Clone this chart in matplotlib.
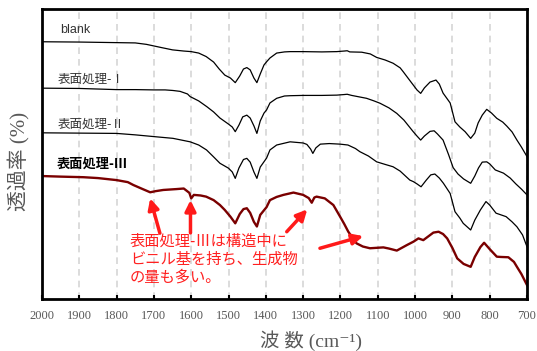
import matplotlib
matplotlib.use('Agg')
import matplotlib.pyplot as plt

# wavenumber (cm-1) / transmittance (stacked, arbitrary %)
wn_blank = [2000, 1900, 1800, 1750, 1720, 1680, 1650, 1620, 1600, 1580, 1560, 1540, 1525, 1510,
            1495, 1482, 1470, 1460, 1451, 1442, 1432, 1424, 1415, 1405, 1398, 1389, 1371, 1350,
            1335, 1300, 1250, 1210, 1190, 1182, 1175, 1143, 1120, 1103, 1080, 1059, 1040, 1032,
            1015, 1005, 995, 985, 975, 960, 944, 935, 925, 906, 893, 880, 866, 851, 840, 831,
            820, 808, 795, 781, 765, 754, 740, 727, 715, 700]
t_blank = [88.7, 88.6, 88.4, 88.3, 87.8, 86.7, 85.9, 85.5, 85.3, 84.8, 83.6, 81.7, 79.3, 77.2,
           76.2, 74.6, 76.9, 79.3, 79.8, 79.0, 76.2, 74.6, 77.6, 80.7, 81.8, 83.1, 84.8, 85.2,
           85.3, 85.3, 85.2, 85.3, 85.5, 85.6, 85.2, 85.1, 84.5, 83.3, 82.4, 81.3, 79.7, 78.4,
           75.5, 73.8, 72.1, 70.9, 72.8, 74.8, 75.5, 74.1, 71.0, 67.6, 61.1, 59.3, 57.7, 55.4,
           57.2, 60.7, 63.4, 65.4, 64.1, 62.3, 61.0, 59.6, 57.6, 54.8, 52.4, 49.1]

wn_s1 = [2000, 1900, 1800, 1750, 1700, 1670, 1649, 1630, 1610, 1603, 1580, 1558, 1540, 1523,
         1500, 1490, 1482, 1472, 1462, 1451, 1442, 1432, 1424, 1415, 1405, 1398, 1389, 1371,
         1350, 1335, 1300, 1250, 1210, 1190, 1182, 1170, 1150, 1130, 1110, 1094, 1070, 1049,
         1030, 1005, 995, 985, 975, 960, 949, 940, 925, 910, 898, 885, 870, 851, 840, 830,
         820, 808, 800, 785, 763, 745, 730, 715, 700]
t_s1 = [72.7, 72.6, 72.2, 72.2, 72.1, 72.1, 71.9, 71.6, 70.7, 69.8, 68.3, 66.3, 64.5, 62.4,
        60.3, 59.3, 57.7, 60.0, 62.8, 63.4, 62.4, 59.7, 57.1, 61.4, 64.1, 65.2, 67.6, 69.2,
        70.0, 70.1, 70.2, 70.2, 70.3, 70.5, 70.6, 70.2, 69.7, 69.2, 68.3, 67.5, 65.9, 64.0,
        61.7, 57.7, 56.2, 54.8, 56.2, 57.8, 58.0, 56.9, 54.8, 49.7, 45.3, 43.1, 41.4, 39.9,
        42.4, 45.2, 47.2, 47.3, 46.6, 44.5, 43.4, 41.7, 39.7, 37.9, 35.9]

wn_s2 = [2000, 1900, 1800, 1750, 1700, 1649, 1603, 1580, 1559, 1540, 1523, 1500, 1490, 1482,
         1472, 1460, 1451, 1442, 1432, 1424, 1415, 1398, 1389, 1371, 1335, 1300, 1290, 1280,
         1274, 1266, 1254, 1230, 1201, 1180, 1160, 1148, 1125, 1103, 1080, 1059, 1040, 1014,
         1005, 995, 984, 970, 958, 947, 935, 924, 906, 893, 880, 871, 851, 840, 825, 810,
         800, 783, 765, 756, 740, 727, 712, 700]
t_s2 = [57.3, 57.2, 57.1, 56.6, 56.0, 55.4, 54.2, 53.1, 51.4, 49.0, 46.8, 45.1, 43.8, 41.6,
        45.2, 48.1, 48.5, 47.2, 43.8, 41.6, 45.5, 48.6, 51.4, 53.1, 54.2, 53.8, 53.3, 51.7,
        50.2, 52.1, 53.4, 53.6, 53.4, 53.1, 51.9, 50.8, 49.3, 47.3, 46.4, 45.6, 44.1, 41.0,
        40.5, 39.7, 38.7, 41.0, 42.8, 43.1, 41.7, 39.9, 36.4, 30.1, 27.9, 26.1, 23.8, 27.2,
        30.7, 33.6, 32.4, 29.6, 28.8, 28.4, 26.6, 24.9, 22.1, 18.0]

wn_s3 = [2000, 1950, 1889, 1850, 1800, 1770, 1755, 1730, 1710, 1695, 1675, 1640, 1620, 1605,
         1600, 1593, 1575, 1560, 1540, 1523, 1510, 1495, 1482, 1470, 1460, 1451, 1442, 1432,
         1424, 1415, 1398, 1389, 1371, 1353, 1326, 1300, 1285, 1277, 1270, 1264, 1242, 1219,
         1201, 1190, 1179, 1157, 1140, 1121, 1085, 1070, 1049, 1022, 1004, 991, 978, 951,
         937, 925, 914, 900, 887, 870, 851, 840, 825, 815, 800, 781, 770, 750, 735, 727,
         715, 700]
t_s3 = [42.4, 42.2, 42.0, 41.7, 41.0, 40.3, 39.3, 37.9, 36.8, 37.2, 37.6, 37.9, 38.1, 36.6,
        34.7, 35.9, 35.7, 35.3, 34.1, 32.4, 30.7, 28.4, 26.1, 29.3, 31.0, 31.3, 29.7, 26.6,
        25.0, 29.0, 31.7, 34.1, 35.2, 35.9, 36.7, 35.9, 34.8, 33.2, 35.0, 35.3, 34.7, 32.4,
        28.4, 25.9, 23.2, 19.2, 18.1, 17.5, 17.8, 17.4, 16.7, 18.6, 19.8, 20.9, 20.3, 22.9,
        23.2, 22.4, 20.9, 17.6, 14.0, 12.1, 11.1, 14.5, 17.9, 19.4, 17.2, 14.6, 14.5, 14.4,
        12.8, 11.1, 8.6, 4.8]

labels = ['blank', '表面処理-Ⅰ', '表面処理-Ⅱ', '表面処理-Ⅲ']
xticks = list(range(2000, 699, -100))

jp = ['Noto Sans CJK JP', 'DejaVu Sans']
mix = ['Liberation Serif', 'Noto Sans CJK JP', 'DejaVu Sans']

fig = plt.figure(figsize=(5.37, 3.51), dpi=100)
ax = fig.add_axes([0.0782, 0.1481, 0.9032, 0.8263])

ax.plot(wn_blank, t_blank, color='black', lw=0.9)
ax.plot(wn_s1, t_s1, color='black', lw=0.9)
ax.plot(wn_s2, t_s2, color='black', lw=0.9)
ax.plot(wn_s3, t_s3, color='#7a0000', lw=1.7)

ax.set_xlim(2000, 700)
ax.set_ylim(0, 100)
ax.set_xticks(xticks)
ax.set_xticklabels([str(v) for v in xticks], family='Liberation Serif', fontsize=9, color='#595959')
ax.set_yticks([])
ax.tick_params(axis='x', direction='in', length=3, width=1.5, pad=8)
for s in ax.spines.values():
    s.set_linewidth(2)
ax.xaxis.grid(True, color='#d6d6d6', lw=1.2, linestyle=(0, (4, 3)))
ax.set_axisbelow(True)

# curve labels
ax.text(0.037, 0.928, labels[0], transform=ax.transAxes, family=['Liberation Sans'], fontsize=9,
        color='#333333', va='center')
ax.text(0.033, 0.759, labels[1], transform=ax.transAxes, family=jp, fontsize=9, color='#333333', va='center')
ax.text(0.033, 0.603, labels[2], transform=ax.transAxes, family=jp, fontsize=9, color='#333333', va='center')
ax.text(0.031, 0.466, labels[3], transform=ax.transAxes, family=jp, fontsize=9.5, color='black',
        va='center', fontweight='bold')

# annotation
ax.text(0.181, 0.228, '表面処理-Ⅲは構造中に\nビニル基を持ち、生成物\nの量も多い。', transform=ax.transAxes,
        family=jp, fontsize=11, color='#ff2020', va='top', linespacing=1.05)
arr = dict(arrowstyle='-|>', color='#ff1a1a', lw=2.5, mutation_scale=16, shrinkA=0, shrinkB=0)
ax.annotate('', xy=(1710, 34.7), xytext=(1684, 22.7), arrowprops=arr)
ax.annotate('', xy=(1602, 34.1), xytext=(1602, 22.8), arrowprops=arr)
ax.annotate('', xy=(1289, 30.9), xytext=(1344, 23.2), arrowprops=arr)
ax.annotate('', xy=(1139, 21.7), xytext=(1255, 17.5), arrowprops=arr)

fig.text(0.037, 0.54, '透過率 (%)', rotation=90, family=mix, fontsize=15, color='#595959',
         ha='center', va='center')
fig.text(0.579, 0.03, '波 数 (cm⁻¹)', family=mix, fontsize=14, color='#595959',
         ha='center', va='center')

fig.savefig('out.png', dpi=100)
